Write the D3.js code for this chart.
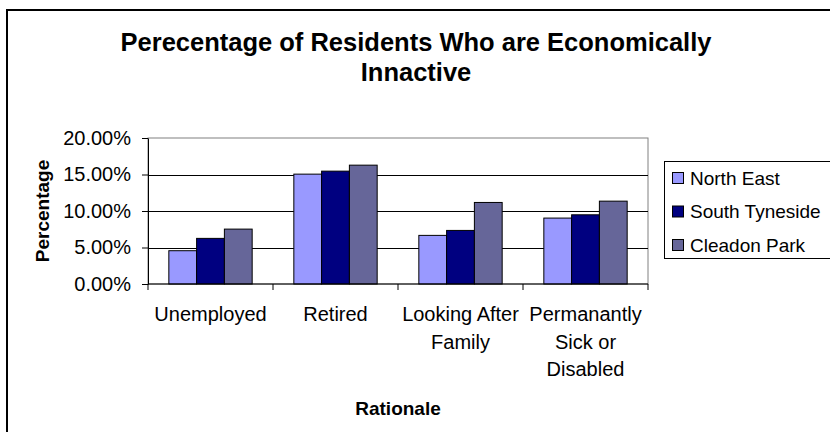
<!DOCTYPE html>
<html>
<head>
<meta charset="utf-8">
<script src="https://cdn.jsdelivr.net/npm/d3@7"></script>
<style>
  body { margin: 0; background: #fff; }
  text { font-family: Arial, "Liberation Sans", sans-serif; fill: #000; }
</style>
</head>
<body>
<div id="chart"></div>
<script>
const categories = ["Unemployed", "Retired", "Looking After Family", "Permanantly Sick or Disabled"]
const categoryLines = [["Unemployed"], ["Retired"], ["Looking After", "Family"], ["Permanantly", "Sick or", "Disabled"]]
const series = ["North East", "South Tyneside", "Cleadon Park"]
const colors = ["#9999ff", "#000080", "#666699"]
const northEast = [0.0456, 0.1505, 0.0666, 0.0903]
const southTyneside = [0.0625, 0.1546, 0.0734, 0.0948]
const cleadonPark = [0.0752, 0.1628, 0.1117, 0.1135]
const yTicks = [0, 0.05, 0.1, 0.15, 0.2]

const values = [northEast, southTyneside, cleadonPark]
const rows = categories.map((c, i) => ({ cat: c, vals: series.map((s, j) => ({ s, v: values[j][i], c: colors[j] })) }))

const svg = d3.select("#chart").append("svg").attr("width", 830).attr("height", 432)

// chart border (runs off right and bottom)
svg.append("rect")
  .attr("x", 7).attr("y", 10).attr("width", 900).attr("height", 500)
  .attr("fill", "#fff").attr("stroke", "#000").attr("stroke-width", 2)

const plotLeft = 148, plotRight = 648, plotTop = 138, plotBottom = 284

const x0 = d3.scaleBand().domain(categories).range([plotLeft, plotRight]).padding(0)
const bw = x0.bandwidth()
const x1 = d3.scaleBand().domain(series).range([bw / 6, bw - bw / 6]).padding(0)
const y = d3.scaleLinear().domain([0, 0.2]).range([plotBottom, plotTop])

// plot area frame
svg.append("rect")
  .attr("x", plotLeft).attr("y", plotTop).attr("width", plotRight - plotLeft).attr("height", plotBottom - plotTop)
  .attr("fill", "#fff").attr("stroke", "#808080").attr("stroke-width", 1)

// gridlines
svg.append("g").selectAll("line").data(yTicks.filter((t) => t > 0 && t < 0.2)).enter()
  .append("line")
  .attr("x1", plotLeft).attr("x2", plotRight)
  .attr("y1", (d) => Math.round(y(d)) + 0.5).attr("y2", (d) => Math.round(y(d)) + 0.5)
  .attr("stroke", "#000")

// bars
const groups = svg.append("g").selectAll("g").data(rows).enter()
  .append("g").attr("transform", (d) => `translate(${x0(d.cat)},0)`)
groups.selectAll("rect").data((d) => d.vals).enter()
  .append("rect")
  .attr("x", (d) => x1(d.s))
  .attr("y", (d) => y(d.v))
  .attr("width", x1.bandwidth())
  .attr("height", (d) => plotBottom - y(d.v))
  .attr("fill", (d) => d.c)
  .attr("stroke", "#000").attr("stroke-width", 1)

// y axis
const yAxis = svg.append("g").attr("transform", `translate(${plotLeft},0)`)
  .call(d3.axisLeft(y).tickValues(yTicks).tickFormat(d3.format(".2%")).tickSize(6).tickSizeOuter(0).tickPadding(11))
yAxis.select(".domain").attr("stroke", "#000")
yAxis.selectAll("line").attr("stroke", "#000")
yAxis.selectAll("text").attr("font-size", 20).attr("font-family", "Arial, 'Liberation Sans', sans-serif")

// x axis with ticks at category boundaries
const xAxis = svg.append("g").attr("transform", `translate(0,${plotBottom})`)
xAxis.append("line").attr("x1", plotLeft).attr("x2", plotRight).attr("stroke", "#000")
xAxis.selectAll("line.tick").data(categories.map((c) => x0(c)).concat([plotRight])).enter()
  .append("line").attr("class", "tick")
  .attr("x1", (d) => d).attr("x2", (d) => d).attr("y1", 0).attr("y2", 6).attr("stroke", "#000")
const labels = xAxis.selectAll("text").data(categoryLines).enter()
  .append("text")
  .attr("text-anchor", "middle")
  .attr("font-size", 20)
  .attr("transform", (d, i) => `translate(${x0(categories[i]) + bw / 2},37)`)
labels.selectAll("tspan").data((d) => d).enter()
  .append("tspan").attr("x", 0).attr("y", (d, i) => i * 27.5).text((d) => d)

// titles
svg.append("text").attr("x", 416).attr("text-anchor", "middle")
  .attr("font-size", 25.5).attr("font-weight", "bold")
  .selectAll("tspan").data(["Perecentage of Residents Who are Economically", "Innactive"]).enter()
  .append("tspan").attr("x", 416).attr("y", (d, i) => 51 + i * 30).text((d) => d)

svg.append("text").attr("x", 398).attr("y", 415).attr("text-anchor", "middle")
  .attr("font-size", 19).attr("font-weight", "bold").text("Rationale")

svg.append("text").attr("transform", `translate(49,${(plotTop + plotBottom) / 2}) rotate(-90)`)
  .attr("text-anchor", "middle").attr("font-size", 19).attr("font-weight", "bold").text("Percentage")

// legend
const legend = svg.append("g")
legend.append("rect").attr("x", 664.5).attr("y", 161.5).attr("width", 200).attr("height", 97)
  .attr("fill", "#fff").attr("stroke", "#000")
const items = legend.selectAll("g").data(series).enter().append("g")
  .attr("transform", (d, i) => `translate(672,${178 + i * 33.5})`)
items.append("rect").attr("x", 0.5).attr("y", -5.5).attr("width", 11).attr("height", 11)
  .attr("fill", (d, i) => colors[i]).attr("stroke", "#000")
items.append("text").attr("x", 18).attr("dy", "0.35em").attr("font-size", 19).text((d) => d)
</script>
</body>
</html>
